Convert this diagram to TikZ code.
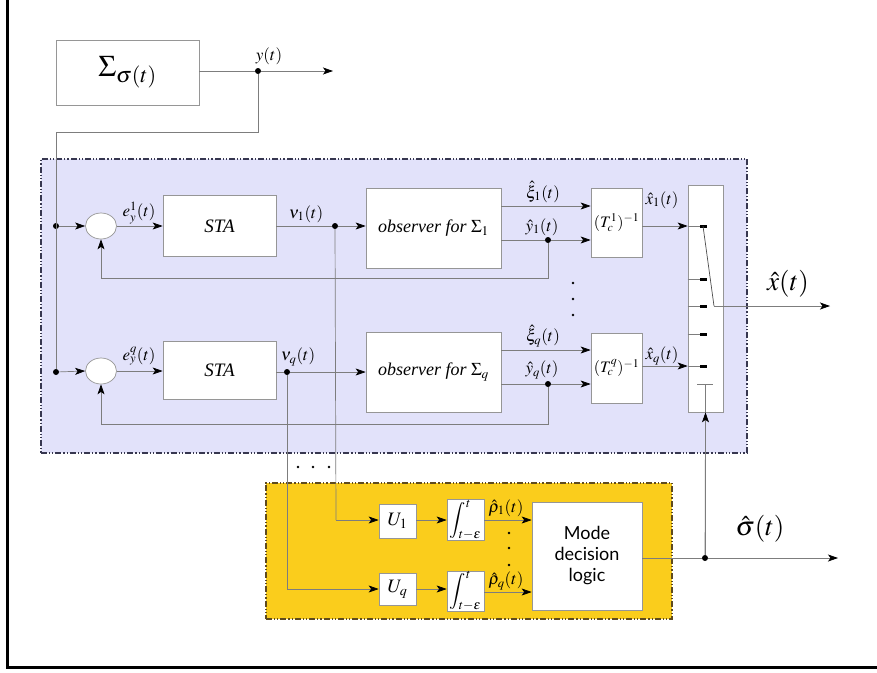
\documentclass[tikz,border=0pt]{standalone}
\usepackage{mathptmx}
\usepackage{fontspec}
\setmainfont{Liberation Serif}
\newfontfamily\modefont{Lato}
\usetikzlibrary{arrows.meta,shapes.geometric}
\definecolor{lav}{RGB}{226,226,250}
\definecolor{gold}{RGB}{250,205,28}
\definecolor{lgray}{RGB}{125,125,125}
\definecolor{bgray}{RGB}{150,150,150}
\definecolor{bord}{RGB}{55,55,80}
\definecolor{bordy}{RGB}{95,75,30}
\begin{document}
\begin{tikzpicture}[x=1pt,y=-1pt,
 blk/.style={draw=bgray, fill=white, line width=0.7pt, inner sep=0pt},
 conn/.style={draw=lgray, line width=0.7pt},
 arr/.style={conn, -{Stealth[length=10pt,width=7pt,inset=2.5pt,color=black]}},
 jdot/.style={circle, fill=black, inner sep=0pt, minimum size=6pt},
 lbl/.style={inner sep=0pt, font=\fontsize{17}{19}\selectfont},
 big/.style={inner sep=0pt, font=\fontsize{27}{30}\selectfont},
 regionframe/.style={dash pattern=on 6pt off 2pt on 1.2pt off 2pt on 1.2pt off 2pt, line width=1.3pt, inner sep=0pt},
 contact/.style={fill=black, minimum width=7pt, minimum height=3pt, inner sep=0pt},
 vdots/.style={circle, fill=black, inner sep=0pt, minimum size=2.6pt}
]
\useasboundingbox (0,0) rectangle (877,672);
\fill[white] (0,0) rectangle (877,672);
\draw[line width=3pt] (7.5,-3) |- (880,667.5);

% background regions
\node[regionframe, draw=bord, fill=lav, minimum width=706pt, minimum height=294pt] (bluebg) at (394,306) {};
\node[regionframe, draw=bordy, fill=gold, minimum width=406pt, minimum height=136pt] (yelbg) at (469,551) {};

% plant
\node[blk, minimum width=143pt, minimum height=65pt, font=\fontsize{30}{34}\selectfont] (plant) at (127.5,72.5) {$\Sigma_{\sigma(t)}$};
\node[jdot] (ydot) at (258,71) {};
\coordinate (yend) at (333,71);
\node[lbl] (ylab) at (269,56) {$y(t)$};
\coordinate (c1) at (258,132);
\coordinate (c2) at (56,132);
\draw[conn] (plant.east |- ydot) -- (ydot);
\draw[arr] (ydot) -- (yend);

% row 1
\node[jdot] (d1) at (56,226) {};
\node[jdot] (d2) at (56,372) {};
\draw[conn] (ydot) -- (c1) -- (c2) -- (d2);
\node[ellipse, blk, minimum width=31pt, minimum height=26pt] (sum1) at (101,226) {};
\node[ellipse, blk, minimum width=31pt, minimum height=26pt] (sumq) at (101,371) {};
\node[blk, minimum width=113pt, minimum height=61pt, font=\fontsize{19}{21}\selectfont\itshape] (sta1) at (219.5,226) {STA};
\node[blk, minimum width=113pt, minimum height=58pt, font=\fontsize{19}{21}\selectfont\itshape] (staq) at (219.5,370) {STA};
\node[jdot] (v1dot) at (335,226) {};
\node[jdot] (vqdot) at (287,372) {};
\node[blk, minimum width=135pt, minimum height=80pt, font=\fontsize{18}{20}\selectfont] (obs1) at (433.5,228) {\itshape observer for $\Sigma_1$};
\node[blk, minimum width=135pt, minimum height=80pt, font=\fontsize{18}{20}\selectfont] (obsq) at (433.5,372) {\itshape observer for $\Sigma_q$};
\node[blk, minimum width=51pt, minimum height=69pt, font=\fontsize{16}{18}\selectfont] (T1) at (616.5,222.5) {$(T_c^1)^{-1}$};
\node[blk, minimum width=51pt, minimum height=70pt, font=\fontsize{16}{18}\selectfont] (Tq) at (616.5,368) {$(T_c^q)^{-1}$};
\node[jdot] (y1dot) at (548,240) {};
\node[jdot] (yqdot) at (548,384) {};
\node[blk, minimum width=35pt, minimum height=227pt] (sw) at (705.5,298.5) {};

% row 1 connections
\draw[arr] (d1) -- (sum1.west);
\draw[arr] (sum1.east) -- (sta1.west |- sum1.east);
\node[lbl] (e1lab) at (139,213) {$e_y^1(t)$};
\draw[conn] (sta1.east |- v1dot) -- (v1dot);
\node[lbl] (v1lab) at (306,214) {$\nu_1(t)$};
\draw[arr] (v1dot) -- (obs1.west |- v1dot);
\draw[arr] (obs1.east |- 0,206) -- (T1.west |- 0,206);
\node[lbl] (xi1lab) at (543,192) {$\hat{\xi}_1(t)$};
\draw[conn] (obs1.east |- y1dot) -- (y1dot);
\draw[arr] (y1dot) -- (T1.west |- y1dot);
\node[lbl] (yh1lab) at (542,227) {$\hat{y}_1(t)$};
\draw[arr] (y1dot) -- (548,278) -- (101,278) -- (sum1.south);
\draw[arr] (T1.east |- 0,226) -- (sw.west |- 0,226);
\node[lbl] (x1lab) at (662,200) {$\hat{x}_1(t)$};

% row q connections
\draw[arr] (d2) -- (sumq.west);
\draw[arr] (sumq.east) -- (staq.west |- sumq.east);
\node[lbl] (eqlab) at (139,356) {$e_y^q(t)$};
\draw[conn] (staq.east |- vqdot) -- (vqdot);
\node[lbl] (vqlab) at (298,357) {$\nu_q(t)$};
\draw[arr] (vqdot) -- (obsq.west |- vqdot);
\draw[arr] (obsq.east |- 0,350) -- (Tq.west |- 0,350);
\node[lbl] (xiqlab) at (543,336) {$\hat{\xi}_q(t)$};
\draw[conn] (obsq.east |- yqdot) -- (yqdot);
\draw[arr] (yqdot) -- (Tq.west |- yqdot);
\node[lbl] (yhqlab) at (542,370) {$\hat{y}_q(t)$};
\draw[arr] (yqdot) -- (548,424) -- (101,424) -- (sumq.south);
\draw[arr] (Tq.east |- 0,366) -- (sw.west |- 0,366);
\node[lbl] (xqlab) at (662,356) {$\hat{x}_q(t)$};

% vertical dots between rows
\node[vdots] at (573,283) {};
\node[vdots] at (573,299) {};
\node[vdots] at (573,315) {};

% switch contacts
\foreach \yy in {226,279,306,334,366} {
  \draw[conn] (sw.west |- 0,\yy) -- (701,\yy);
  \node[contact] at (703,\yy) {};
}
\coordinate (armend) at (714,306);
\coordinate (xend) at (830,306);
\draw[conn, draw=black!70] (703,226) -- (armend);
\draw[arr] (armend) -- (xend);
\node[big] (xlab) at (788,284) {$\hat{x}(t)$};
\draw[conn] (697,384) -- (713,384);

% decision block
\node[blk, minimum width=37pt, minimum height=34pt, font=\fontsize{19}{21}\selectfont] (U1) at (397.5,521) {$U_1$};
\node[blk, minimum width=37pt, minimum height=32pt, font=\fontsize{19}{21}\selectfont] (Uq) at (397.5,589) {$U_q$};
\node[blk, minimum width=37pt, minimum height=41pt, font=\fontsize{18}{20}\selectfont] (int1) at (465.5,520) {$\displaystyle\int_{t-\epsilon}^{t}$};
\node[blk, minimum width=37pt, minimum height=40pt, font=\fontsize{18}{20}\selectfont] (intq) at (465.5,591) {$\displaystyle\int_{t-\epsilon}^{t}$};
\node[blk, minimum width=110pt, minimum height=108pt, align=center, font=\modefont\fontsize{18}{21}\selectfont] (mode) at (587,556) {Mode\\decision\\logic};

\draw[conn] (v1dot) -- (336,520);
\draw[arr] (336,520) -- (U1.west |- 0,520);
\draw[conn] (vqdot) -- (287,589);
\draw[arr] (287,589) -- (Uq.west |- 0,589);
\node[vdots] at (298,467) {};
\node[vdots] at (313,467) {};
\node[vdots] at (329,467) {};

\draw[arr] (U1.east |- 0,520) -- (int1.west |- 0,520);
\draw[arr] (Uq.east |- 0,589) -- (intq.west |- 0,589);
\draw[arr] (int1.east |- 0,520) -- (mode.west |- 0,520);
\draw[arr] (intq.east |- 0,592) -- (mode.west |- 0,592);
\node[lbl] (rho1lab) at (506,508) {$\hat{\rho}_1(t)$};
\node[lbl] (rhoqlab) at (506,581) {$\hat{\rho}_q(t)$};
\node[vdots] at (509,533) {};
\node[vdots] at (509,548) {};
\node[vdots] at (509,565) {};

% mode output
\node[jdot] (sdot) at (705,558) {};
\coordinate (send) at (838,558);
\draw[conn] (mode.east |- sdot) -- (sdot);
\draw[arr] (sdot) -- (send);
\node[big] (slab) at (760,529) {$\hat{\sigma}(t)$};
\draw[conn] (sdot) -- (705,384);
\draw[arr] (sdot) -- (sw.south);
\end{tikzpicture}
\end{document}
